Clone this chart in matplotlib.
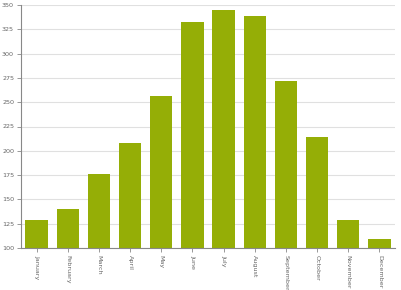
import matplotlib
matplotlib.use("Agg")
import matplotlib.pyplot as plt

months = ["January", "February", "March", "April", "May", "June", "July",
          "August", "September", "October", "November", "December"]
values = [129, 140, 176, 208, 256, 332, 345, 339, 272, 214, 129, 109]
yticks = [100, 125, 150, 175, 200, 225, 250, 275, 300, 325, 350]

fig = plt.figure(figsize=(4.02, 2.90), dpi=100)
ax = fig.add_axes([21/402, 42/290, 374/402, 243/290])

x = list(range(len(months)))
ax.bar(x, values, width=0.72, color="#95AE06", zorder=2)
ax.set_xlim(-0.5, len(months) - 0.5)
ax.set_ylim(100, 350)
ax.set_yticks(yticks)
ax.set_yticklabels([str(v) for v in yticks])
ax.set_xticks(x)
ax.set_xticklabels(months, rotation=-90)

ax.grid(axis="y", color="#e0e0e0", linewidth=0.8, zorder=0)
ax.set_axisbelow(True)
for s in ["top", "right"]:
    ax.spines[s].set_visible(False)
for s in ["left", "bottom"]:
    ax.spines[s].set_color("#888888")
    ax.spines[s].set_linewidth(0.8)
ax.tick_params(axis="both", colors="#888888", labelcolor="#666666",
               labelsize=4.6, length=3, width=0.6, pad=2)

fig.savefig("out.png", dpi=100)
